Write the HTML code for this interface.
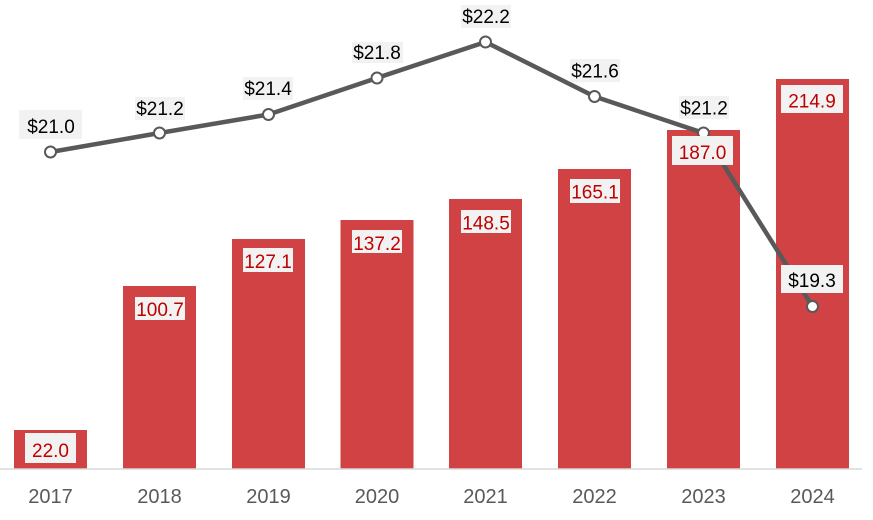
<!DOCTYPE html>
<html><head><meta charset="utf-8"><style>
html,body{margin:0;padding:0;background:#fff;}
svg{display:block;}
text{font-family:"Liberation Sans",Arial,sans-serif;}
</style></head><body>
<svg width="873" height="520" viewBox="0 0 873 520" xmlns="http://www.w3.org/2000/svg">
<!-- bars -->
<g fill="#d04243">
<rect x="14" y="430" width="73" height="39"/>
<rect x="123" y="286" width="73" height="183"/>
<rect x="232" y="239" width="73" height="230"/>
<rect x="340.5" y="220" width="73" height="249"/>
<rect x="449" y="199" width="73" height="270"/>
<rect x="558" y="169" width="73" height="300"/>
<rect x="667" y="130" width="73" height="339"/>
<rect x="776" y="79" width="73" height="390"/>
</g>
<!-- axis -->
<line x1="0" y1="469" x2="862" y2="469" stroke="#d9d9d9" stroke-width="1.5"/>
<g font-size="20" fill="#595959" text-anchor="middle">
<text x="50.5" y="503">2017</text>
<text x="159.5" y="503">2018</text>
<text x="268.5" y="503">2019</text>
<text x="377" y="503">2020</text>
<text x="485.5" y="503">2021</text>
<text x="594.5" y="503">2022</text>
<text x="703.5" y="503">2023</text>
<text x="812.5" y="503">2024</text>
</g>
<!-- line -->
<polyline points="50.5,152 159.5,133 268.5,114.5 377,78 485.5,42 594.5,96.5 703.5,133 812.5,306.5" fill="none" stroke="#595959" stroke-width="4.5" stroke-linejoin="round"/>
<g fill="#fff" stroke="#595959" stroke-width="2">
<circle cx="50.5" cy="152" r="5.5"/>
<circle cx="159.5" cy="133" r="5.5"/>
<circle cx="268.5" cy="114.5" r="5.5"/>
<circle cx="377" cy="78" r="5.5"/>
<circle cx="485.5" cy="42" r="5.5"/>
<circle cx="594.5" cy="96.5" r="5.5"/>
<circle cx="703.5" cy="133" r="5.5"/>
<circle cx="812.5" cy="306.5" r="5.5"/>
</g>
<!-- bar labels -->
<g fill="#f2f2f2">
<rect x="25" y="433" width="51" height="30"/>
<rect x="135" y="297" width="50" height="23"/>
<rect x="243" y="248" width="50" height="24"/>
<rect x="352" y="230" width="50" height="23"/>
<rect x="461" y="210" width="50" height="23"/>
<rect x="570" y="179" width="50" height="24"/>
<rect x="672" y="136" width="61" height="29"/>
<rect x="781" y="85" width="62" height="28"/>
</g>
<g font-size="19" fill="#c00000" text-anchor="middle">
<text x="50.5" y="457">22.0</text>
<text x="160" y="316">100.7</text>
<text x="268" y="268">127.1</text>
<text x="377" y="250">137.2</text>
<text x="486" y="229.5">148.5</text>
<text x="595" y="198.5">165.1</text>
<text x="702.5" y="159">187.0</text>
<text x="812" y="107.5">214.9</text>
</g>
<!-- line labels -->
<g fill="#f2f2f2">
<rect x="19" y="110" width="63" height="29"/>
<rect x="135" y="97" width="50" height="23"/>
<rect x="243" y="77" width="50" height="23"/>
<rect x="352" y="42" width="51" height="21"/>
<rect x="461" y="5" width="50" height="23"/>
<rect x="570" y="59" width="50" height="23"/>
<rect x="679" y="96" width="50" height="23"/>
<rect x="781" y="265" width="62" height="28"/>
</g>
<g font-size="19" fill="#000" text-anchor="middle">
<text x="51" y="133">$21.0</text>
<text x="160" y="115">$21.2</text>
<text x="268" y="95">$21.4</text>
<text x="377" y="59">$21.8</text>
<text x="486" y="23">$22.2</text>
<text x="595" y="77.5">$21.6</text>
<text x="704" y="114.5">$21.2</text>
<text x="812" y="287">$19.3</text>
</g>
</svg>
</body></html>
